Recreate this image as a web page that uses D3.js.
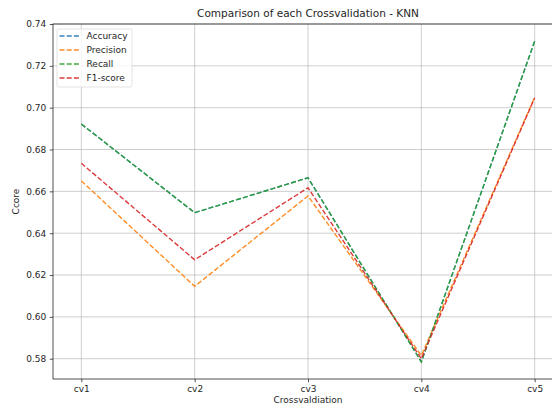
<!DOCTYPE html>
<html>
<head>
<meta charset="utf-8">
<script src="https://cdn.jsdelivr.net/npm/d3@7"></script>
<style>
  body { margin: 0; background: #fff; }
  text { font-family: "DejaVu Sans", sans-serif; fill: #262626; }
</style>
</head>
<body>
<svg id="chart" width="552" height="406"></svg>
<script>
// dados
const folds = ["cv1", "cv2", "cv3", "cv4", "cv5"];
const accuracy = [0.6922, 0.6498, 0.6665, 0.5785, 0.7318];
const precision = [0.6650, 0.6146, 0.6578, 0.5815, 0.7050];
const recall = [0.6922, 0.6498, 0.6665, 0.5785, 0.7318];
const f1 = [0.6734, 0.6273, 0.6617, 0.5800, 0.7047];
const yTicks = [0.58, 0.60, 0.62, 0.64, 0.66, 0.68, 0.70, 0.72, 0.74];

const series = [
  { name: "Accuracy", values: accuracy, color: "#1f77b4" },
  { name: "Precision", values: precision, color: "#ff7f0e" },
  { name: "Recall", values: recall, color: "#2ca02c" },
  { name: "F1-score", values: f1, color: "#d62728" }
];

const svg = d3.select("#chart");
const m = { left: 53, right: 563, top: 24, bottom: 379 };
const fs = "9px";

const x = d3.scalePoint().domain(folds).range([m.left, m.right]).padding(0.25);
const y = d3.scaleLinear().domain([0.5703, 0.7400]).range([m.bottom, m.top]);

// grade
const grid = svg.append("g");
grid.selectAll(".gx").data(folds).enter().append("line")
  .attr("x1", d => x(d)).attr("x2", d => x(d))
  .attr("y1", m.top).attr("y2", m.bottom)
  .attr("stroke", "#b0b0b0").attr("stroke-width", 0.8).attr("opacity", 0.75);
grid.selectAll(".gy").data(yTicks).enter().append("line")
  .attr("x1", m.left).attr("x2", m.right)
  .attr("y1", d => y(d)).attr("y2", d => y(d))
  .attr("stroke", "#b0b0b0").attr("stroke-width", 0.8).attr("opacity", 0.75);

// linhas
const dash = "5,2.2";
const line = d3.line().x((d, i) => x(folds[i])).y(d => y(d));
series.forEach(s => {
  svg.append("path")
    .attr("d", line(s.values))
    .attr("fill", "none")
    .attr("stroke", s.color)
    .attr("stroke-opacity", 0.9)
    .attr("stroke-width", 1.4)
    .attr("stroke-dasharray", dash);
});

// eixos
const xAxis = svg.append("g").attr("transform", `translate(0,${m.bottom})`)
  .call(d3.axisBottom(x).tickSize(3.2).tickPadding(3.5));
const yAxis = svg.append("g").attr("transform", `translate(${m.left},0)`)
  .call(d3.axisLeft(y).tickValues(yTicks).tickFormat(d3.format(".2f")).tickSize(3.2).tickPadding(3.5));
[xAxis, yAxis].forEach(a => {
  a.selectAll("text").style("font-size", fs).style("fill", "#262626");
  a.selectAll("line").attr("stroke", "#262626").attr("stroke-width", 0.8);
  a.select(".domain").remove();
});

// moldura
svg.append("rect")
  .attr("x", m.left).attr("y", m.top)
  .attr("width", m.right - m.left).attr("height", m.bottom - m.top)
  .attr("fill", "none").attr("stroke", "#262626").attr("stroke-width", 0.8);

// títulos
svg.append("text").attr("x", (m.left + m.right) / 2).attr("y", 17)
  .attr("text-anchor", "middle").style("font-size", "10.5px")
  .text("Comparison of each Crossvalidation - KNN");
svg.append("text").attr("x", (m.left + m.right) / 2).attr("y", 403)
  .attr("text-anchor", "middle").style("font-size", fs)
  .text("Crossvaldiation");
svg.append("text")
  .attr("transform", `translate(19,${(m.top + m.bottom) / 2}) rotate(-90)`)
  .attr("text-anchor", "middle").style("font-size", fs)
  .text("Ccore");

// legenda
const leg = svg.append("g").attr("transform", "translate(57,29)");
leg.append("rect").attr("width", 75).attr("height", 58).attr("rx", 2)
  .attr("fill", "#fff").attr("fill-opacity", 0.8)
  .attr("stroke", "#dcdcdc").attr("stroke-width", 0.8);
series.forEach((s, i) => {
  const gy = 7 + i * 14;
  leg.append("line").attr("x1", 2.5).attr("x2", 22.5).attr("y1", gy).attr("y2", gy)
    .attr("stroke", s.color).attr("stroke-opacity", 0.9)
    .attr("stroke-width", 1.4).attr("stroke-dasharray", dash);
  leg.append("text").attr("x", 29.5).attr("y", gy + 3.3)
    .style("font-size", fs).text(s.name);
});
</script>
</body>
</html>
